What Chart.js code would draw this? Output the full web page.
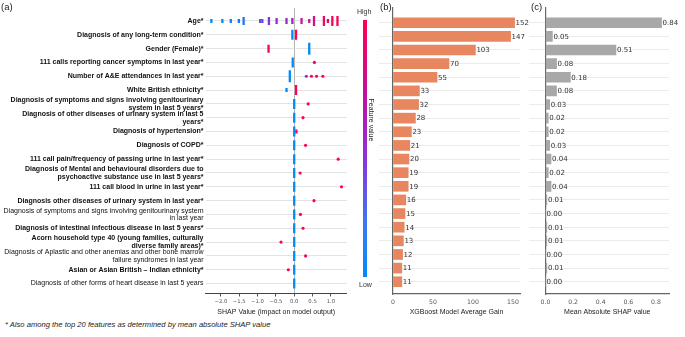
<!DOCTYPE html>
<html>
<head>
<meta charset="utf-8">
<script src="https://cdn.jsdelivr.net/npm/chart.js@4.4.1/dist/chart.umd.min.js"></script>
<style>
  html, body { margin: 0; padding: 0; background: #fff; }
  #page { position: relative; width: 685px; height: 337px; overflow: hidden; font-family: "Liberation Sans", Arial, sans-serif; color: #222; }
  canvas { position: absolute; top: 0; }
  .tag { position: absolute; top: 1px; font-size: 9.5px; }
  .small { position: absolute; font-size: 7px; color: #333; }
  #cbar { position: absolute; left: 363px; top: 20px; width: 3.5px; height: 257px;
          background: linear-gradient(to bottom, #ff0052 0%, #c010a0 30%, #8a35dc 55%, #3a7af0 80%, #008bfb 100%); }
  #fv { position: absolute; left: 371px; top: 120px; font-size: 7px; color: #222;
        transform: translate(-50%, -50%) rotate(90deg); white-space: nowrap; }
  #note { position: absolute; left: 5px; top: 320px; font-size: 7.6px; font-style: italic; color: #222; }
</style>
</head>
<body>
<div id="page">
  <canvas id="swarm" width="347" height="320" style="left:0"></canvas>
  <canvas id="gain" width="155" height="320" style="left:375px"></canvas>
  <canvas id="shap" width="160" height="320" style="left:525px"></canvas>
  <div class="tag" style="left:1px">(a)</div>
  <div class="tag" style="left:380px">(b)</div>
  <div class="tag" style="left:531px">(c)</div>
  <div id="cbar"></div>
  <div class="small" style="left:357px; top:8px">High</div>
  <div class="small" style="left:359px; top:281px">Low</div>
  <div id="fv">Feature value</div>
  <div id="note">* Also among the top 20 features as determined by mean absolute SHAP value</div>
</div>
<script>
const features = [
  'Age*',
  'Diagnosis of any long-term condition*',
  'Gender (Female)*',
  '111 calls reporting cancer symptoms in last year*',
  'Number of A&E attendances in last year*',
  'White British ethnicity*',
  ['Diagnosis of symptoms and signs involving genitourinary', 'system in last 5 years*'],
  ['Diagnosis of other diseases of urinary system in last 5', 'years*'],
  'Diagnosis of hypertension*',
  'Diagnosis of COPD*',
  '111 call pain/frequency of passing urine in last year*',
  ['Diagnosis of Mental and behavioural disorders due to', 'psychoactive substance use in last 5 years*'],
  '111 call blood in urine in last year*',
  'Diagnosis other diseases of urinary system in last year*',
  ['Diagnosis of symptoms and signs involving genitourinary system', 'in last year'],
  'Diagnosis of intestinal infectious disease in last 5 years*',
  ['Acorn household type 40 (young families, culturally', 'diverse family areas)*'],
  ['Diagnosis of Aplastic and other anemias and other bone marrow', 'failure syndromes in last year'],
  'Asian or Asian British – Indian ethnicity*',
  'Diagnosis of other forms of heart disease in last 5 years'
];

const avgGain = [152, 147, 103, 70, 55, 33, 32, 28, 23, 21, 20, 19, 19, 16, 15, 14, 13, 12, 11, 11];
const meanAbsShap = [0.84, 0.05, 0.51, 0.08, 0.18, 0.08, 0.03, 0.02, 0.02, 0.03,
                     0.04, 0.02, 0.04, 0.01, 0.00, 0.01, 0.01, 0.00, 0.01, 0.00];

const shapTicks = [-2.0, -1.5, -1.0, -0.5, 0.0, 0.5, 1.0];
const gainTicks = [0, 50, 100, 150];
const meanTicks = [0.0, 0.2, 0.4, 0.6, 0.8];

// one list per feature: [shap value, feature value (0 low .. 1 high), stacked dots]
const swarm = [
  [[-2.26, 0.0, 2], [-1.96, 0.03, 2], [-1.73, 0.06, 2], [-1.51, 0.1, 2], [-1.38, 0.12, 4],
   [-0.93, 0.32, 2], [-0.87, 0.35, 2], [-0.69, 0.45, 4], [-0.48, 0.5, 3], [-0.21, 0.55, 3],
   [-0.05, 0.6, 3], [0.2, 0.72, 3], [0.41, 0.78, 2], [0.54, 0.82, 5], [0.81, 0.9, 5],
   [0.92, 0.94, 2], [1.04, 0.97, 5], [1.18, 1.0, 5]],
  [[-0.05, 0, 5], [0.05, 1, 5]],
  [[-0.7, 1, 4], [0.41, 0, 6]],
  [[-0.04, 0, 5], [0.55, 1, 1]],
  [[-0.12, 0, 6], [0.33, 0.45, 1], [0.47, 0.9, 1], [0.61, 0.95, 1], [0.78, 1, 1]],
  [[-0.21, 0, 2], [0.05, 1, 5]],
  [[0, 0, 5], [0.38, 1, 1]],
  [[0, 0, 5], [0.24, 1, 1]],
  [[0, 0, 5], [0.06, 1, 2]],
  [[0, 0, 5], [0.31, 1, 1]],
  [[0, 0, 5], [1.2, 1, 1]],
  [[0, 0, 5], [0.16, 1, 1]],
  [[0, 0, 5], [1.29, 1, 1]],
  [[0, 0, 5], [0.54, 1, 1]],
  [[0, 0, 5], [0.17, 1, 1]],
  [[0, 0, 5], [0.24, 1, 1]],
  [[0, 0, 5], [-0.36, 1, 1]],
  [[0, 0, 5], [0.31, 1, 1]],
  [[0, 0, 5], [-0.16, 1, 1]],
  [[0, 0, 5]]
];

const SANS = '"Liberation Sans", Arial, sans-serif';
const DEJAVU = '"DejaVu Sans", sans-serif';

const lastLine = l => Array.isArray(l) ? l[l.length - 1] : l;
const isBold = i => features[i] !== undefined && lastLine(features[i]).endsWith('*');

// blue -> purple -> red, like shap's red_blue map
const stops = [[0, 139, 251], [140, 45, 215], [255, 0, 82]];
function levelColor(t) {
  const k = t < 0.5 ? 0 : 1;
  const f = t < 0.5 ? t / 0.5 : (t - 0.5) / 0.5;
  const a = stops[k], b = stops[k + 1];
  const c = a.map((v, j) => Math.round(v + (b[j] - v) * f));
  return `rgb(${c[0]},${c[1]},${c[2]})`;
}

const swarmData = [];
swarm.forEach((row, i) => row.forEach(p => swarmData.push({ x: p[0], y: i, level: p[1], n: p[2] })));

const rowTicks = s => { s.ticks = features.map((_, i) => ({ value: i })); };
const fixedTicks = list => s => { s.ticks = list.map(v => ({ value: v })); };
// force an axis size and drop the label overflow padding chart.js adds
const fitX = h => s => { s.height = h; s.paddingLeft = 0; s.paddingRight = 0; };
const fitY = w => s => { s.width = w; s.paddingTop = 0; s.paddingBottom = 0; };

const common = {
  animation: false,
  responsive: false,
  maintainAspectRatio: false,
  events: [],
  plugins: { legend: { display: false }, tooltip: { enabled: false } }
};

// panel (a): beeswarm
new Chart(document.getElementById('swarm'), {
  type: 'scatter',
  data: {
    datasets: [{
      data: swarmData,
      pointStyle: c => c.raw && c.raw.n > 1 ? 'line' : 'circle',
      rotation: 90,
      pointRadius: c => c.raw && c.raw.n > 1 ? c.raw.n : 1.6,
      borderWidth: c => c.raw && c.raw.n > 1 ? 2.3 : 0,
      borderColor: c => levelColor(c.raw ? c.raw.level : 0),
      backgroundColor: c => levelColor(c.raw ? c.raw.level : 0)
    }]
  },
  options: {
    ...common,
    layout: { padding: { top: 8, right: 0, left: 0, bottom: 0 }, autoPadding: false },
    scales: {
      x: {
        min: -2.42, max: 1.44,
        afterBuildTicks: fixedTicks(shapTicks),
        afterFit: fitX(320 - 293.5),
        ticks: {
          font: { family: DEJAVU, size: 5.3 }, color: '#555', padding: 1.5,
          callback: v => (v < 0 ? '\u2212' : '') + Math.abs(v).toFixed(1)
        },
        grid: {
          color: c => c.tick && c.tick.value === 0 ? '#b5b5b5' : 'transparent',
          tickColor: '#555', tickLength: 3, lineWidth: 1
        },
        border: { color: '#444', width: 1 },
        title: {
          display: true, text: 'SHAP Value (impact on model output)', color: '#222',
          font: { family: SANS, size: 7 }, padding: { top: 0, bottom: 3.5 }
        }
      },
      y: {
        type: 'linear', reverse: true, min: -0.94, max: 19.72,
        afterBuildTicks: rowTicks,
        afterFit: fitY(205.5),
        ticks: {
          autoSkip: false,
          callback: v => features[v],
          color: '#111', padding: 2,
          font: c => ({ family: SANS, size: 7, weight: isBold(c.index) ? 'bold' : 'normal', lineHeight: 1.1 })
        },
        grid: { color: '#dcdcdc', lineWidth: 0.8, drawTicks: false },
        border: { display: false }
      }
    }
  }
});

const valueLabels = fmt => ({
  id: 'valueLabels',
  afterDatasetsDraw(chart) {
    const ctx = chart.ctx;
    const ds = chart.data.datasets[0];
    ctx.save();
    ctx.font = '7px ' + DEJAVU;
    ctx.fillStyle = '#333';
    ctx.textBaseline = 'middle';
    chart.getDatasetMeta(0).data.forEach((bar, i) => {
      ctx.fillText(fmt(ds.data[i].x), bar.x + 1, bar.y + 0.5);
    });
    ctx.restore();
  }
});

function barPanel(id, values, color, max, ticks, tickFmt, title, axisWidth, padRight, fmt) {
  return new Chart(document.getElementById(id), {
    type: 'bar',
    data: {
      datasets: [{
        data: values.map((v, i) => ({ x: v, y: i })),
        backgroundColor: color,
        barThickness: 10
      }]
    },
    options: {
      ...common,
      indexAxis: 'y',
      layout: { padding: { top: 8, right: padRight } },
      scales: {
        x: {
          min: 0, max: max,
          afterBuildTicks: fixedTicks(ticks),
          afterFit: fitX(320 - 294),
          ticks: { font: { family: DEJAVU, size: 6.2 }, color: '#555', padding: 3, callback: tickFmt },
          grid: { drawOnChartArea: false, tickColor: 'transparent', tickLength: 2 },
          border: { color: '#666', width: 1.2 },
          title: {
            display: true, text: title, color: '#222',
            font: { family: SANS, size: 7 }, padding: { top: 0, bottom: 3.5 }
          }
        },
        y: {
          type: 'linear', reverse: true, min: -1.08, max: 19.9, offset: false,
          afterBuildTicks: rowTicks,
          afterFit: fitY(axisWidth),
          ticks: { display: false, autoSkip: false },
          grid: { offset: false, color: '#e6e6e6', lineWidth: 0.8, tickLength: axisWidth - 4 },
          border: { color: '#666', width: 1.2 }
        }
      }
    },
    plugins: [valueLabels(fmt)]
  });
}

// panel (b): XGBoost average gain
barPanel('gain', avgGain, '#e8875f', 158.75, gainTicks, v => String(v),
  'XGBoost Model Average Gain', 18, 10, v => String(v));

// panel (c): mean |SHAP|
barPanel('shap', meanAbsShap, '#a8a8a8', 0.894, meanTicks, v => v.toFixed(1),
  'Mean Absolute SHAP value', 20.5, 16, v => v.toFixed(2));
</script>
</body>
</html>
